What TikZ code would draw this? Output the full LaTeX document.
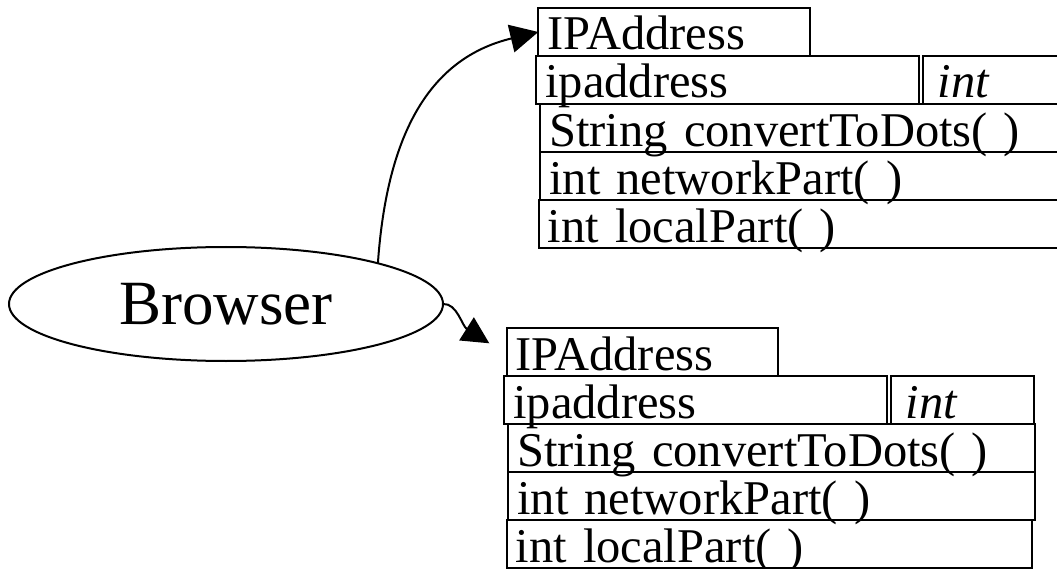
\documentclass[tikz,border=0pt]{standalone}
\usepackage{fontspec}
\setmainfont{Liberation Serif}
\usetikzlibrary{shapes.geometric,arrows.meta}
\newcommand\bxfont{\fontsize{48.5}{50}\selectfont}
\newcommand\brfont{\fontsize{63}{66}\selectfont}
\tikzset{
  rec/.style={draw, line width=2pt, outer sep=0pt, inner xsep=9pt, inner ysep=0pt,
    text height=42pt, text depth=6pt, anchor=north west, align=left, font=\bxfont},
  conn/.style={line width=2pt},
}
\begin{document}
\begin{tikzpicture}[x=1pt,y=-1pt]
\clip (0,0) rectangle (1057,569);
\fill[white] (0,0) rectangle (1057,569);
% Browser
\node[ellipse, draw, line width=2pt, minimum width=434pt, minimum height=114pt, inner sep=0pt, outer sep=0pt, font=\brfont] (br) at (226,304) {Browser};
% top block
\node[rec, text width=253.6pt, minimum height=48pt] (t1) at (538.3,8) {IPAddress};
\node[rec, text width=364.4pt, minimum height=48pt] (t2) at (536.3,56) {ipaddress};
\node[rec, inner xsep=15pt, text width=113.6pt, minimum height=48pt] (t3) at (922.7,56) {\itshape int};
\node[rec, text width=508.7pt, minimum height=48.3pt] (t4) at (540.3,104) {String convertToDots( )};
\node[rec, text width=508.7pt, minimum height=47.7pt] (t5) at (540.3,152.3) {int networkPart( )};
\node[rec, text width=507.6pt, minimum height=48.3pt] (t6) at (538.7,200) {int localPart( )};
% bottom block
\node[rec, text width=253.6pt, minimum height=48pt] (b1) at (506.7,328) {IPAddress};
\node[rec, text width=364.4pt, minimum height=48pt] (b2) at (504.3,376) {ipaddress};
\node[rec, inner xsep=15pt, text width=113.6pt, minimum height=48pt] (b3) at (890.7,376) {\itshape int};
\node[rec, text width=508.7pt, minimum height=48.3pt] (b4) at (508.3,424) {String convertToDots( )};
\node[rec, text width=508.7pt, minimum height=47.7pt] (b5) at (508.3,472.3) {int networkPart( )};
\node[rec, text width=507.6pt, minimum height=48.3pt] (b6) at (506.7,520) {int localPart( )};
% connectors
\coordinate (e2) at (489.3,343.3);
\draw[conn, -{Triangle[length=28pt,width=28pt]}] (br.15) .. controls (387,133) and (430,58) .. (t1.west);
\draw[conn, -{Triangle[length=27pt,width=27pt]}] (br.east) .. controls (457,303) and (462,326) .. (e2);
\end{tikzpicture}
\end{document}
